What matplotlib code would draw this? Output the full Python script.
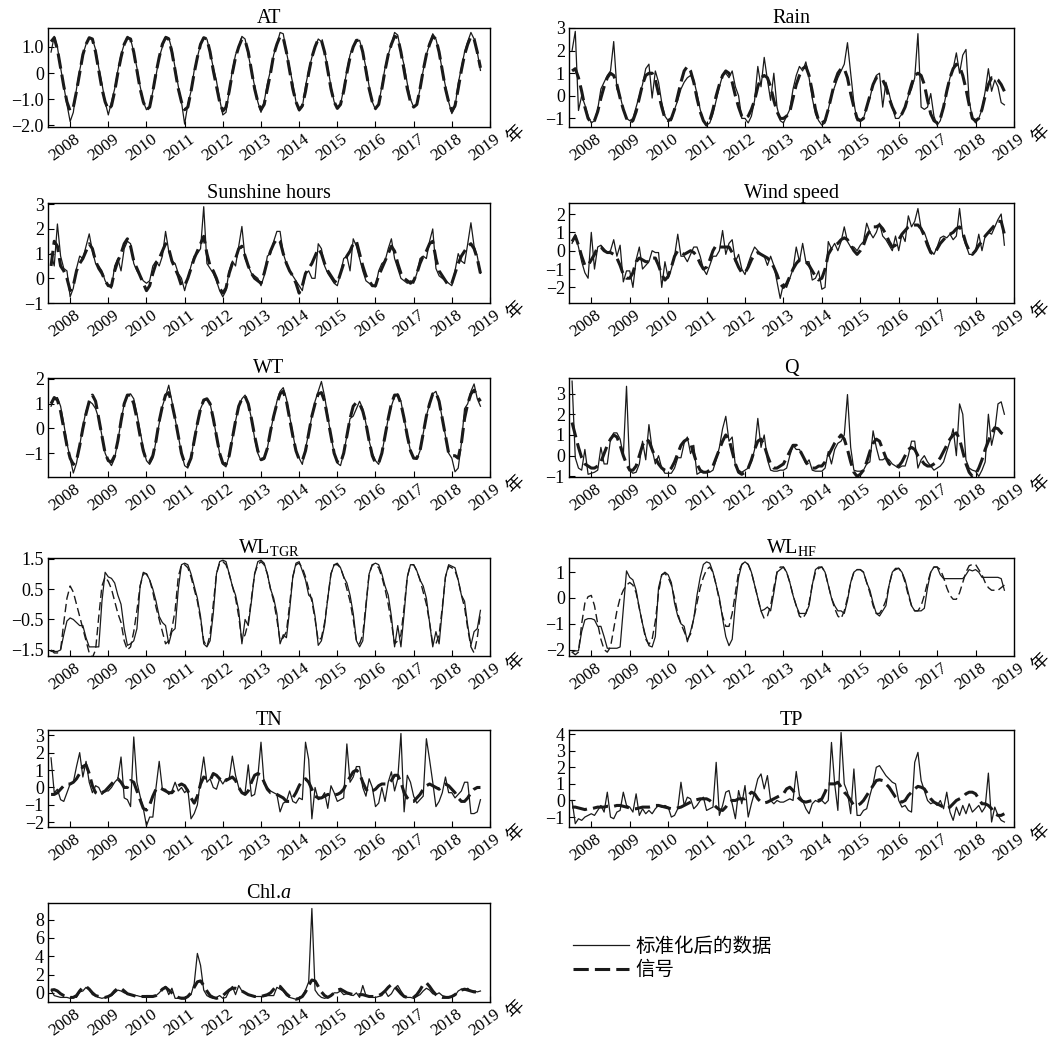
import numpy as np
import matplotlib
matplotlib.use('Agg')
import matplotlib.pyplot as plt
import matplotlib.transforms as mtransforms
from matplotlib.lines import Line2D

# monthly series, Jul 2007 .. Oct 2018 (rows: 2007 Jul-Dec, 2008 ... 2017, 2018 Jan-Oct)
start_year = 2007.5
years = list(range(2008, 2020))

at_data = [0.8, 1.4, 1.0, 0.2, -0.5, -1.2,
    -1.85, -1.5, -0.6, 0.1, 0.7, 1.1, 1.35, 1.3, 0.9, 0.2, -0.4, -1.1,
    -1.6, -1.1, -0.6, 0.1, 0.7, 1.1, 1.4, 1.3, 0.8, 0.2, -0.5, -1.1,
    -1.4, -1.3, -0.7, -0.1, 0.6, 1.0, 1.4, 1.35, 0.9, 0.2, -0.5, -1.1,
    -1.95, -1.2, -0.7, 0.1, 0.6, 1.1, 1.35, 1.3, 0.8, 0.2, -0.3, -1.0,
    -1.6, -1.5, -0.7, 0.1, 0.7, 1.0, 1.4, 1.3, 0.7, 0.1, -0.5, -1.1,
    -1.5, -1.1, -0.4, 0.1, 0.7, 1.1, 1.55, 1.5, 0.8, 0.2, -0.4, -1.1,
    -1.45, -1.3, -0.5, 0.1, 0.6, 1.0, 1.3, 1.2, 0.8, 0.2, -0.5, -1.1,
    -1.3, -1.2, -0.6, 0.1, 0.7, 1.0, 1.2, 1.25, 0.8, 0.2, -0.5, -1.1,
    -1.4, -1.2, -0.5, 0.2, 0.7, 1.1, 1.55, 1.45, 0.8, 0.3, -0.4, -1.0,
    -1.3, -1.2, -0.6, 0.1, 0.7, 1.1, 1.5, 1.3, 0.8, 0.1, -0.5, -1.1,
    -1.55, -1.3, -0.4, 0.2, 0.8, 1.2, 1.55, 1.3, 0.8, 0.1]
at_signal = [1.2, 1.35, 0.9, 0.2, -0.5, -1.1,
    -1.45, -1.3, -0.7, 0.0, 0.7, 1.1, 1.35, 1.3, 0.8, 0.1, -0.6, -1.1,
    -1.4, -1.25, -0.7, 0.0, 0.6, 1.1, 1.35, 1.3, 0.8, 0.1, -0.6, -1.1,
    -1.4, -1.3, -0.7, 0.0, 0.6, 1.1, 1.35, 1.3, 0.8, 0.1, -0.6, -1.1,
    -1.4, -1.3, -0.7, 0.0, 0.6, 1.1, 1.35, 1.3, 0.8, 0.1, -0.5, -1.1,
    -1.45, -1.3, -0.7, 0.0, 0.6, 1.0, 1.3, 1.25, 0.8, 0.1, -0.6, -1.1,
    -1.4, -1.2, -0.6, 0.0, 0.7, 1.1, 1.4, 1.35, 0.8, 0.1, -0.6, -1.1,
    -1.4, -1.25, -0.7, 0.0, 0.6, 1.0, 1.3, 1.25, 0.8, 0.1, -0.6, -1.1,
    -1.35, -1.2, -0.7, 0.0, 0.6, 1.0, 1.25, 1.25, 0.8, 0.1, -0.6, -1.1,
    -1.35, -1.2, -0.6, 0.1, 0.7, 1.1, 1.4, 1.35, 0.8, 0.1, -0.6, -1.1,
    -1.3, -1.2, -0.6, 0.1, 0.7, 1.1, 1.4, 1.3, 0.8, 0.1, -0.6, -1.1,
    -1.45, -1.25, -0.6, 0.1, 0.7, 1.1, 1.4, 1.3, 0.8, 0.2]

rain_data = [2.0, 2.85, -0.65, 0.0, -0.4, -0.9,
    -1.2, -1.1, -0.6, 0.3, 0.6, 0.9, 1.1, 2.4, 0.3, 0.0, -0.6, -1.0,
    -1.1, -1.0, -0.5, 0.0, 0.5, 1.2, 1.4, -0.1, 1.1, 0.6, -0.3, -0.9,
    -1.1, -1.1, -0.6, -0.2, 0.3, 0.6, 0.8, 0.9, 0.7, 0.1, -0.6, -1.1,
    -1.3, -1.2, -0.8, -0.2, 0.4, 0.9, 1.0, 0.8, 1.1, 0.4, 0.0, -1.0,
    -1.0, -1.2, -0.9, -0.2, 1.3, 0.4, 1.7, 0.7, -0.2, 1.0, -0.5, -1.1,
    -1.2, -0.9, -0.6, 0.3, 0.9, 1.3, 1.1, 1.5, 0.8, -0.1, -0.8, -1.1,
    -1.3, -1.2, -0.6, 0.0, 0.4, 0.8, 1.1, 1.4, 2.35, 1.0, -0.3, -1.1,
    -1.1, -1.0, -0.5, -0.1, 0.5, 0.9, 1.0, -0.5, 0.6, 0.1, -0.5, -1.0,
    -1.0, -0.8, -0.5, 0.0, 0.3, 0.8, 2.75, -0.5, -0.6, -0.5, 0.1, -0.9,
    -1.3, -1.1, -0.5, 0.2, 0.8, 1.2, 1.9, 1.0, 1.8, 2.05, -0.2, -1.0,
    -1.2, -1.0, -0.6, 0.2, 1.2, 0.2, 0.7, 0.4, -0.3, -0.4]
rain_signal = [1.1, 1.2, 0.8, 0.2, -0.5, -1.0,
    -1.2, -1.1, -0.7, -0.1, 0.4, 0.8, 1.0, 0.9, 0.5, -0.1, -0.6, -1.0,
    -1.2, -1.1, -0.7, -0.1, 0.5, 0.9, 1.0, 1.0, 0.7, 0.1, -0.5, -1.0,
    -1.1, -1.0, -0.6, 0.0, 0.6, 1.1, 1.3, 1.1, 0.6, -0.1, -0.7, -1.1,
    -1.3, -1.1, -0.6, 0.0, 0.5, 0.9, 1.1, 1.0, 0.6, 0.0, -0.5, -0.9,
    -1.0, -0.9, -0.6, -0.2, 0.4, 0.8, 0.9, 0.8, 0.4, -0.2, -0.7, -1.0,
    -1.0, -0.9, -0.7, -0.1, 0.5, 0.9, 1.2, 1.3, 0.9, 0.2, -0.6, -1.1,
    -1.2, -1.1, -0.6, 0.0, 0.6, 1.0, 1.2, 1.2, 0.8, 0.1, -0.5, -1.0,
    -1.1, -1.0, -0.5, 0.0, 0.5, 0.8, 0.8, 0.7, 0.4, -0.1, -0.5, -0.8,
    -0.9, -0.8, -0.5, 0.0, 0.5, 0.9, 1.0, 0.9, 0.5, -0.2, -0.8, -1.1,
    -1.2, -1.0, -0.5, 0.2, 0.8, 1.2, 1.4, 1.3, 0.9, 0.3, -0.4, -1.0,
    -1.1, -1.0, -0.6, 0.0, 0.5, 0.8, 0.8, 0.7, 0.5, 0.2]

sun_data = [1.0, 0.5, 2.2, 0.9, 0.4, 0.3,
    -0.75, -0.4, 0.4, 0.9, 0.8, 1.3, 1.8, 1.1, 0.6, 0.5, 0.3, -0.1,
    -0.3, -0.4, 0.5, 0.8, 0.3, 1.2, 1.5, 1.4, 0.6, 0.3, 0.1, -0.1,
    -0.2, -0.1, 0.5, 0.7, 0.5, 0.9, 1.9, 1.1, 0.7, 0.6, 0.2, 0.0,
    -0.5, 0.0, 0.5, 0.9, 1.0, 1.2, 2.9, 0.6, 0.4, 0.2, -0.1, -0.5,
    -0.75, -0.5, 0.3, 0.7, 0.5, 1.3, 2.1, 0.8, 0.5, 0.2, 0.1, 0.0,
    -0.3, 0.1, 0.9, 1.0, 1.5, 1.9, 1.9, 1.0, 0.6, 0.3, 0.1, -0.1,
    -0.3, -0.5, 0.2, 0.3, 0.0, 0.0, 1.4, 1.2, 0.5, 0.2, 0.0, -0.2,
    -0.3, 0.2, 0.8, 0.9, 0.3, 1.6, 1.3, 0.8, 0.3, -0.1, -0.2, -0.3,
    -0.35, 0.3, 0.6, 0.7, 1.2, 1.6, 0.8, 0.4, 0.0, -0.1, -0.2, -0.1,
    -0.2, 0.2, 0.8, 0.9, 0.8, 1.5, 2.0, 0.4, 0.1, 0.0, -0.1, -0.2,
    -0.3, 0.3, 1.0, 0.7, 0.6, 1.4, 2.25, 1.3, 0.9, 0.2]
sun_signal = [0.5, 1.5, 1.3, 0.5, 0.3, 0.0,
    -0.5, -0.3, 0.3, 0.6, 0.8, 1.1, 1.4, 1.2, 0.7, 0.4, 0.2, -0.1,
    -0.3, -0.3, 0.3, 0.7, 1.0, 1.4, 1.6, 1.3, 0.7, 0.4, 0.1, -0.2,
    -0.5, -0.3, 0.2, 0.6, 0.8, 1.1, 1.4, 1.2, 0.7, 0.4, 0.1, -0.3,
    -0.3, 0.0, 0.4, 0.8, 1.1, 1.4, 1.7, 1.0, 0.5, 0.3, 0.0, -0.4,
    -0.6, -0.4, 0.2, 0.6, 0.8, 1.2, 1.3, 0.9, 0.5, 0.2, 0.0, -0.1,
    -0.2, 0.2, 0.7, 1.1, 1.4, 1.6, 1.5, 1.0, 0.6, 0.3, 0.1, -0.2,
    -0.6, -0.3, 0.2, 0.4, 0.6, 0.9, 1.2, 1.0, 0.6, 0.3, 0.1, -0.1,
    -0.2, 0.2, 0.6, 0.9, 1.1, 1.4, 1.5, 1.0, 0.5, 0.1, -0.1, -0.3,
    -0.3, 0.1, 0.4, 0.7, 1.0, 1.3, 1.1, 0.6, 0.2, 0.0, -0.1, -0.2,
    -0.1, 0.2, 0.6, 0.9, 1.1, 1.4, 1.5, 0.8, 0.3, 0.1, -0.1, -0.3,
    -0.2, 0.2, 0.6, 0.9, 1.1, 1.3, 1.4, 1.2, 0.8, 0.2]

wind_data = [0.4, 0.9, 0.2, -0.6, -1.2, -1.5,
    1.0, -1.0, 0.2, 0.3, 0.1, -0.1, 0.0, 0.6, -0.3, 0.3, -1.7, -1.1,
    -1.1, -2.0, -0.5, 0.2, -1.0, -0.8, -0.6, 0.0, -0.1, -0.1, -2.0, -0.6,
    -1.5, -1.0, -0.3, 0.9, -0.3, -0.3, -0.6, -0.2, 0.2, 0.2, -0.3, -1.0,
    -1.3, -0.8, -0.3, -0.3, 0.0, 1.1, -0.2, 0.4, 0.6, -0.6, -0.2, -1.0,
    -1.3, -0.7, -0.2, 0.2, 0.0, -0.2, -0.3, -0.8, -0.3, -0.8, -1.7, -2.6,
    -1.8, -2.0, -1.5, -1.0, 0.2, -0.6, 0.4, -0.6, -0.6, -1.6, -1.5, -1.1,
    -2.1, -2.0, 0.5, 0.1, 0.4, 0.0, 0.5, 1.3, 0.5, 0.2, 0.2, 0.0,
    0.3, 0.5, 1.5, 1.0, 0.7, 1.0, 1.5, 0.8, 0.6, 0.3, 0.0, 0.8,
    0.0, 0.9, 0.5, 1.9, 1.3, 1.6, 2.3, 1.2, 1.0, 0.5, 0.0, -0.2,
    0.2, 0.7, 0.8, 0.7, 0.9, 0.6, 0.8, 2.3, 0.8, 0.3, -0.2, -0.2,
    0.0, 0.9, 0.0, 0.8, 1.0, 0.9, 1.3, 1.7, 2.0, 0.3]
wind_signal = [0.5, 0.8, 0.3, -0.3, -0.8, -0.8,
    -0.5, -0.2, 0.2, 0.2, 0.0, -0.1, -0.1, -0.2, -0.4, -0.8, -1.3, -1.5,
    -1.5, -1.2, -0.6, -0.4, -0.5, -0.6, -0.6, -0.4, -0.4, -0.8, -1.3, -1.6,
    -1.4, -0.9, -0.3, 0.0, -0.1, -0.2, -0.1, 0.0, -0.1, -0.3, -0.7, -1.0,
    -0.9, -0.5, 0.0, 0.3, 0.2, 0.2, 0.2, 0.2, -0.1, -0.5, -0.9, -1.2,
    -1.2, -0.9, -0.5, -0.2, -0.1, -0.2, -0.3, -0.4, -0.6, -0.9, -1.3, -1.8,
    -2.0, -1.8, -1.4, -1.0, -0.7, -0.5, -0.5, -0.6, -0.8, -1.1, -1.4, -1.6,
    -1.5, -1.0, -0.2, 0.1, 0.3, 0.4, 0.6, 0.7, 0.6, 0.3, 0.0, -0.2,
    0.0, 0.3, 0.8, 1.1, 1.3, 1.3, 1.4, 1.2, 0.9, 0.5, 0.2, 0.3,
    0.6, 0.9, 1.1, 1.3, 1.4, 1.4, 1.4, 1.2, 0.8, 0.3, -0.1, -0.2,
    0.1, 0.4, 0.6, 0.8, 0.9, 1.0, 1.2, 1.3, 1.0, 0.4, 0.0, -0.2,
    0.0, 0.3, 0.5, 0.8, 1.0, 1.2, 1.4, 1.6, 1.6, 0.9]

wt_data = [0.9, 1.2, 1.25, 0.9, 0.2, -0.6,
    -1.2, -1.8, -1.4, -0.7, 0.1, 0.7, 1.1, 1.0, 0.8, 0.4, -0.3, -1.0,
    -1.3, -1.5, -1.2, -0.5, 0.3, 1.0, 1.3, 1.4, 1.2, 0.6, -0.1, -0.8,
    -1.3, -1.45, -1.2, -0.5, 0.2, 0.9, 1.3, 1.75, 1.1, 0.4, -0.3, -1.0,
    -1.5, -1.6, -1.2, -0.4, 0.2, 0.8, 1.1, 1.2, 1.0, 0.4, -0.3, -1.0,
    -1.45, -1.55, -1.1, -0.4, 0.3, 0.9, 1.2, 1.35, 1.0, 0.4, -0.4, -1.0,
    -1.3, -1.25, -0.8, -0.1, 0.5, 1.1, 1.5, 1.65, 1.2, 0.5, -0.2, -0.9,
    -1.2, -1.45, -0.8, -0.2, 0.5, 1.1, 1.5, 1.9, 1.3, 0.5, -0.3, -1.0,
    -1.4, -1.5, -1.0, -0.3, 0.4, 0.5, 0.8, 1.1, 0.8, 0.2, -0.5, -1.0,
    -1.3, -1.45, -1.0, -0.3, 0.4, 0.9, 1.3, 1.4, 1.1, 0.4, -0.3, -0.9,
    -1.2, -1.25, -0.9, -0.2, 0.5, 1.0, 1.4, 1.5, 1.1, 0.4, -0.3, -1.0,
    -1.2, -1.75, -1.6, -0.6, 0.8, 1.0, 1.5, 1.8, 1.2, 0.9]
wt_signal = [1.0, 1.25, 1.15, 0.7, 0.0, -0.7,
    -1.2, -1.45, -1.3, -0.7, 0.0, 0.6, 1.1, 1.35, 1.1, 0.4, -0.3, -1.0,
    -1.3, -1.35, -1.1, -0.5, 0.3, 1.0, 1.35, 1.35, 1.0, 0.4, -0.3, -0.9,
    -1.3, -1.35, -1.1, -0.5, 0.3, 0.9, 1.35, 1.45, 1.0, 0.4, -0.3, -1.0,
    -1.4, -1.5, -1.2, -0.5, 0.2, 0.8, 1.15, 1.2, 1.0, 0.4, -0.3, -1.0,
    -1.4, -1.45, -1.1, -0.4, 0.3, 0.9, 1.2, 1.3, 1.0, 0.4, -0.3, -0.9,
    -1.25, -1.2, -0.8, -0.1, 0.5, 1.0, 1.4, 1.5, 1.1, 0.4, -0.3, -0.9,
    -1.25, -1.3, -0.9, -0.2, 0.5, 1.0, 1.4, 1.45, 1.1, 0.4, -0.3, -1.0,
    -1.35, -1.4, -1.0, -0.3, 0.4, 0.9, 1.05, 1.0, 0.7, 0.2, -0.5, -1.1,
    -1.4, -1.4, -1.0, -0.3, 0.4, 1.0, 1.35, 1.35, 1.0, 0.4, -0.3, -0.9,
    -1.2, -1.2, -0.9, -0.2, 0.5, 1.0, 1.4, 1.45, 1.1, 0.4, -0.3, -1.0,
    -1.1, -1.1, -1.2, -0.6, 0.4, 1.0, 1.4, 1.55, 1.3, 1.1]

q_data = [3.6, -0.1, -0.6, -0.7, 0.3, -0.9,
    -0.85, -0.8, -0.7, 0.4, -0.4, -0.4, 0.8, 1.1, 1.1, 0.8, 0.0, 3.35,
    -0.7, -0.85, -0.8, -0.4, 0.7, -0.2, 1.5, 0.3, -0.4, 0.0, -0.6, -0.85,
    -0.85, -0.85, -0.6, -0.1, -0.1, 0.6, 0.9, 0.1, 0.5, -0.9, -0.8, -0.8,
    -0.8, -0.8, -0.7, -0.2, 0.4, 1.3, 1.9, 0.7, 0.9, -0.5, -0.7, -0.8,
    -0.7, -0.6, -0.3, 0.3, 1.8, 0.4, 1.0, -0.2, -0.7, -0.75, -0.75, -0.7,
    -0.7, -0.6, 0.0, 0.5, 0.3, 0.3, 0.0, -0.4, -0.2, -0.7, -0.75, -0.75,
    -0.75, -0.6, 0.2, -0.4, 0.3, 0.6, 0.7, 1.0, 2.95, 0.4, -0.7, -0.75,
    -0.75, -0.7, -0.4, -0.3, 1.2, 0.4, -0.2, -0.2, -0.1, -0.2, -0.4, -0.5,
    -0.6, -0.5, -0.5, 0.0, 0.7, 0.7, -0.6, -0.2, 0.0, -0.3, -0.5, -0.7,
    -0.6, -0.5, -0.3, 0.2, 0.7, 1.3, 0.0, 2.5, 2.0, -0.2, -0.6, -0.7,
    -0.75, -1.0, -0.7, -0.3, 2.0, 0.5, 1.2, 2.5, 2.6, 2.0]
q_signal = [1.6, 1.0, 0.4, -0.1, -0.4, -0.5,
    -0.6, -0.6, -0.5, -0.3, 0.1, 0.5, 0.8, 1.0, 0.9, 0.5, 0.0, -0.4,
    -0.7, -0.7, -0.5, 0.0, 0.5, 0.8, 0.7, 0.3, -0.1, -0.4, -0.6, -0.7,
    -0.75, -0.6, -0.3, 0.1, 0.5, 0.7, 0.8, 0.6, 0.1, -0.4, -0.7, -0.8,
    -0.8, -0.7, -0.5, -0.1, 0.3, 0.7, 1.0, 0.8, 0.2, -0.4, -0.8, -0.9,
    -0.8, -0.6, -0.2, 0.3, 0.7, 0.8, 0.5, 0.0, -0.4, -0.6, -0.6, -0.5,
    -0.4, -0.1, 0.2, 0.5, 0.5, 0.3, 0.0, -0.3, -0.5, -0.6, -0.6, -0.5,
    -0.5, -0.3, 0.0, 0.3, 0.6, 0.8, 1.0, 0.8, 0.3, -0.3, -0.8, -1.0,
    -0.9, -0.7, -0.3, 0.2, 0.6, 0.8, 0.7, 0.3, -0.1, -0.4, -0.5, -0.5,
    -0.5, -0.3, 0.0, 0.3, 0.4, 0.3, 0.0, -0.2, -0.4, -0.5, -0.5, -0.4,
    -0.3, -0.1, 0.2, 0.5, 0.8, 1.0, 1.1, 0.8, 0.2, -0.4, -0.8, -1.0,
    -0.9, -0.6, -0.2, 0.3, 0.7, 1.1, 1.35, 1.3, 1.1, 1.0]

wltgr_data = [-1.55, -1.55, -1.55, -1.5, -1.0, -0.55,
    -0.45, -0.5, -0.6, -0.7, -0.7, -1.1, -1.4, -1.4, -1.4, -1.4, 0.1, 1.05,
    0.9, 0.85, 0.7, 0.3, 0.0, -0.8, -1.35, -1.3, -1.2, -0.8, 0.6, 1.05,
    1.0, 0.8, 0.5, 0.1, -0.4, -0.6, -0.7, -1.3, -0.9, -0.8, 0.5, 1.3,
    1.35, 1.3, 1.0, 0.6, 0.2, -0.4, -1.3, -1.4, -1.2, -0.3, 1.0, 1.4,
    1.45, 1.4, 1.0, 0.6, 0.3, -0.2, -1.3, -0.5, -0.7, 0.1, 1.0, 1.4,
    1.45, 1.35, 1.0, 0.5, 0.2, -0.3, -1.3, -1.0, -1.1, -0.2, 0.9, 1.35,
    1.4, 1.1, 0.8, 0.3, 0.2, -0.4, -1.35, -1.2, -0.7, 0.2, 1.0, 1.3,
    1.35, 1.2, 0.9, 0.7, 0.3, -0.3, -1.2, -1.4, -1.2, -0.1, 1.0, 1.3,
    1.35, 1.3, 1.0, 0.6, 0.3, -0.4, -1.4, -0.7, -1.4, -0.3, 0.9, 1.3,
    1.3, 1.1, 0.8, 0.6, 0.2, -0.6, -1.4, -0.9, -1.3, -0.2, 0.9, 1.3,
    1.25, 1.2, 0.8, 0.3, 0.1, -0.7, -1.35, -0.9, -0.8, -0.2]
wltgr_signal = [-1.5, -1.6, -1.6, -1.5, -0.6, 0.2,
    0.6, 0.4, 0.0, -0.4, -0.8, -1.2, -1.6, -1.75, -1.5, -0.4, 0.6, 0.9,
    0.75, 0.5, 0.1, -0.3, -0.6, -1.2, -1.5, -1.4, -0.9, -0.2, 0.6, 1.0,
    1.0, 0.8, 0.4, -0.1, -0.5, -0.9, -1.3, -1.2, -0.8, -0.2, 0.9, 1.3,
    1.3, 1.2, 0.9, 0.5, 0.1, -0.5, -1.2, -1.4, -1.0, 0.0, 1.0, 1.35,
    1.4, 1.3, 1.0, 0.6, 0.2, -0.4, -1.2, -1.0, -0.6, 0.2, 1.0, 1.3,
    1.4, 1.3, 1.0, 0.5, 0.1, -0.5, -1.2, -1.1, -0.9, 0.0, 0.9, 1.3,
    1.35, 1.2, 0.9, 0.5, 0.1, -0.5, -1.2, -1.1, -0.6, 0.2, 1.0, 1.3,
    1.3, 1.2, 0.9, 0.5, 0.1, -0.5, -1.2, -1.3, -1.0, 0.0, 1.0, 1.3,
    1.3, 1.2, 0.9, 0.5, 0.0, -0.6, -1.3, -1.2, -1.0, -0.1, 0.9, 1.3,
    1.3, 1.1, 0.8, 0.4, 0.0, -0.6, -1.3, -1.3, -1.0, -0.1, 0.9, 1.25,
    1.2, 1.1, 0.8, 0.3, -0.1, -0.8, -1.4, -1.6, -1.1, -0.3]

wlhf_data = [-2.1, -2.05, -2.05, -1.3, -0.85, -0.8,
    -0.8, -0.85, -1.1, -1.1, -1.5, -1.95, -1.95, -1.95, -1.95, -1.9, -0.4, 1.05,
    0.8, 0.7, 0.3, -0.4, -1.0, -1.5, -1.85, -1.9, -1.5, 0.4, 0.9, 1.0,
    0.9, 0.6, -0.2, -0.7, -1.0, -1.1, -1.7, -1.3, -0.8, 0.1, 0.8, 1.3,
    1.4, 1.35, 1.0, 0.5, 0.0, -0.8, -1.5, -1.85, -1.6, -0.2, 0.8, 1.3,
    1.4, 1.3, 1.0, 0.5, 0.0, -0.5, -0.45, -0.35, -0.5, 0.2, 1.0, 1.1,
    1.2, 1.0, 0.6, 0.1, -0.3, -0.6, -0.6, -0.6, -0.3, 0.5, 1.1, 1.2,
    1.2, 1.0, 0.5, 0.0, -0.3, -0.5, -0.5, -0.6, -0.1, 0.6, 1.0, 1.1,
    1.1, 1.0, 0.6, 0.3, -0.2, -0.6, -0.7, -0.5, -0.3, 0.5, 1.0, 1.15,
    1.15, 1.0, 0.7, 0.2, -0.3, -0.5, -0.5, -0.5, -0.4, 0.4, 1.0, 1.2,
    1.2, 0.9, 0.75, 0.75, 0.75, 0.75, 0.75, 0.75, 0.75, 0.9, 1.1, 1.05,
    1.1, 1.0, 0.8, 0.8, 0.8, 0.8, 0.8, 0.8, 0.75, 0.3]
wlhf_signal = [-2.1, -2.2, -2.1, -1.0, -0.2, 0.05,
    0.1, -0.3, -1.0, -1.6, -2.0, -2.1, -1.9, -1.2, -0.5, 0.0, 0.3, 0.5,
    0.6, 0.5, 0.2, -0.4, -1.0, -1.6, -1.8, -1.6, -0.9, 0.2, 0.9, 0.95,
    0.8, 0.5, 0.0, -0.6, -1.0, -1.3, -1.6, -1.4, -0.8, -0.2, 0.4, 0.8,
    1.1, 1.2, 1.0, 0.5, -0.1, -0.7, -1.1, -1.1, -0.6, 0.2, 1.0, 1.3,
    1.4, 1.3, 1.0, 0.5, 0.0, -0.5, -0.8, -0.7, -0.3, 0.4, 1.0, 1.2,
    1.2, 1.0, 0.6, 0.1, -0.3, -0.7, -0.8, -0.6, -0.2, 0.5, 1.0, 1.15,
    1.2, 1.0, 0.5, 0.0, -0.4, -0.7, -0.8, -0.5, 0.0, 0.6, 1.0, 1.1,
    1.1, 1.0, 0.6, 0.2, -0.3, -0.6, -0.6, -0.4, -0.1, 0.5, 1.0, 1.1,
    1.15, 1.0, 0.6, 0.1, -0.3, -0.5, -0.5, -0.3, 0.1, 0.6, 1.0, 1.2,
    1.2, 1.1, 0.8, 0.4, 0.1, -0.05, -0.05, 0.2, 0.6, 1.0, 1.25, 1.3,
    1.3, 1.1, 0.9, 0.6, 0.4, 0.3, 0.3, 0.3, 0.4, 0.5]

tn_data = [1.7, -0.3, -0.1, -0.7, -0.8, -0.3,
    0.2, 0.3, 1.2, 2.0, 0.6, 1.5, 0.3, -0.3, 0.1, 0.0, -0.4, -0.2,
    -0.2, 0.0, 0.3, 0.5, 1.75, -0.6, -0.7, -1.1, 2.9, 0.3, -0.5, -1.2,
    -2.2, -1.7, -1.7, 0.0, 1.5, -0.1, -0.1, -0.4, -0.2, 0.3, -0.2, 0.0,
    -0.3, -0.1, -1.8, -1.5, -1.0, 0.5, 1.75, 0.3, 0.5, 0.0, -0.1, 0.5,
    0.2, 0.5, 0.5, 1.8, 0.7, 0.0, -0.3, -0.3, 1.3, -0.5, -0.4, 0.6,
    2.6, 0.2, 0.0, -0.2, -0.3, -0.4, -1.4, -0.9, -0.8, -0.2, -0.8, -0.9,
    -0.6, -0.7, 2.6, 1.6, -1.8, 0.0, -0.7, -0.6, -0.3, -1.2, 0.1, -0.3,
    -0.8, -0.7, -0.6, 2.5, 0.3, 0.6, 1.2, 1.2, 0.0, -0.5, 0.5, 0.0,
    -1.1, -0.9, 0.0, -0.8, 0.3, 0.9, -0.2, 0.5, 3.1, -1.4, 0.7, 0.3,
    -0.5, -0.9, -0.7, -0.5, 2.8, 1.6, 0.3, -1.1, -0.8, -0.3, 0.6, -0.3,
    -0.3, -0.6, -0.4, -0.2, 0.3, 0.3, -1.5, -1.5, -1.4, -0.7]
tn_signal = [-0.4, -0.4, -0.3, -0.1, 0.1, 0.2,
    0.2, 0.3, 0.5, 0.8, 1.2, 1.3, 0.8, 0.1, -0.3, -0.4, -0.3, -0.2,
    0.0, 0.2, 0.4, 0.5, 0.3, 0.0, 0.0, 0.4, 0.3, -0.2, -0.7, -1.2,
    -1.3, -1.0, -0.5, -0.1, 0.0, -0.1, -0.2, -0.3, -0.3, -0.1, 0.1, 0.2,
    0.1, -0.2, -0.6, -0.9, -0.5, 0.2, 0.6, 0.5, 0.4, 0.8, 0.7, 0.5,
    0.3, 0.4, 0.5, 0.6, 0.4, 0.0, -0.3, -0.4, -0.2, 0.3, 0.7, 0.8,
    0.7, 0.3, -0.1, -0.3, -0.3, -0.4, -0.5, -0.6, -0.8, -0.8, -0.6, -0.3,
    0.1, 0.4, 0.5, 0.3, -0.1, -0.5, -0.6, -0.6, -0.5, -0.4, -0.4, -0.4,
    -0.4, -0.3, -0.1, 0.3, 0.6, 0.9, 1.0, 0.8, 0.3, -0.1, -0.3, -0.2,
    -0.1, 0.1, 0.2, 0.2, 0.2, 0.4, 0.7, 0.7, 0.3, -0.3, -0.6, -0.8,
    -0.8, -0.6, -0.4, -0.1, 0.1, 0.2, 0.1, 0.0, -0.1, 0.1, 0.2, 0.1,
    -0.1, -0.3, -0.6, -0.8, -0.8, -0.6, -0.3, -0.1, 0.0, 0.0]

tp_data = [0.0, -1.4, -1.1, -1.2, -1.0, -0.9,
    -0.8, -0.9, -0.6, -0.3, -0.7, 0.5, -1.0, -1.1, -0.7, -0.6, 0.5, -0.3,
    -0.4, -0.7, 0.4, -0.9, -0.5, -0.8, -0.6, -0.8, -0.5, -0.3, -0.4, -0.3,
    -0.4, -1.0, -0.9, -0.5, 1.1, -0.3, 0.2, 0.1, -0.5, -0.3, 0.0, 0.2,
    -0.6, -0.5, -0.4, 2.3, -0.9, -0.3, 0.5, 0.6, -0.2, -1.1, 0.6, -0.2,
    0.9, -1.0, -0.2, 0.5, 1.3, 1.6, 0.7, 1.5, 0.0, -0.2, 0.0, -0.1,
    -0.1, 0.0, 0.1, 0.0, 1.75, 0.3, 0.0, -0.5, -0.8, -0.2, 0.0, -0.1,
    0.0, -0.2, 0.0, 3.5, 1.0, -0.6, 4.1, 1.0, 0.5, -0.8, 1.9, -0.9,
    -0.9, -0.6, -0.5, 0.3, 1.0, 2.0, 2.1, 1.8, 1.5, 1.3, 1.1, 1.0,
    0.0, -0.4, -0.3, -0.6, -0.7, 2.3, 2.9, 1.2, 0.6, 0.0, -0.2, -0.1,
    -0.3, 0.0, -0.5, 0.5, -0.7, -1.2, -0.4, -0.9, -0.3, -0.8, -0.2, -0.7,
    -0.5, -0.3, -0.7, -0.4, 1.65, -1.3, -0.4, -0.9, -1.2, -1.3]
tp_signal = [-0.4, -0.4, -0.45, -0.5, -0.55, -0.5,
    -0.5, -0.45, -0.4, -0.4, -0.4, -0.35, -0.35, -0.35, -0.3, -0.3, -0.35, -0.4,
    -0.45, -0.5, -0.5, -0.45, -0.4, -0.4, -0.4, -0.35, -0.3, -0.3, -0.35, -0.4,
    -0.45, -0.5, -0.5, -0.45, -0.4, -0.3, -0.2, -0.1, 0.0, 0.05, 0.1, 0.1,
    0.1, 0.0, -0.2, -0.4, -0.55, -0.6, -0.4, -0.1, 0.0, 0.0, 0.1, 0.1,
    0.1, 0.3, 0.5, 0.4, 0.1, -0.1, -0.15, -0.1, 0.0, 0.1, 0.2, 0.3,
    0.4, 0.7, 0.8, 0.6, 0.3, 0.1, -0.05, -0.1, -0.05, 0.0, 0.0, 0.0,
    0.1, 0.5, 1.0, 1.0, 1.0, 1.1, 0.8, 0.5, 0.3, 0.0, -0.3, -0.3,
    -0.2, 0.0, 0.3, 0.6, 0.9, 1.2, 1.25, 1.2, 1.0, 0.8, 0.5, 0.2,
    0.0, -0.1, 0.0, 0.3, 0.5, 0.7, 0.85, 0.8, 0.7, 0.4, 0.1, -0.1,
    -0.2, -0.3, -0.4, -0.5, -0.4, -0.2, 0.0, 0.1, 0.2, 0.4, 0.5, 0.5,
    0.4, 0.1, -0.2, -0.2, -0.3, -0.5, -0.8, -0.9, -0.9, -0.8]

chla_data = [0.3, -0.3, -0.4, -0.5, -0.5, -0.5,
    -0.6, -0.4, -0.5, 0.1, 0.2, 0.6, 0.4, -0.2, -0.3, -0.5, -0.6, -0.5,
    -0.4, -0.3, 0.0, 0.3, 0.2, 0.0, -0.1, -0.2, -0.3, -0.3, -0.4, -0.4,
    -0.3, -0.3, -0.3, -0.3, 0.0, 0.4, 0.7, -0.2, 0.5, -0.6, -0.6, -0.5,
    -0.5, -0.4, -0.2, 1.0, 4.3, 3.0, 0.3, -0.3, -0.5, -0.6, -0.5, -0.3,
    -0.6, -0.5, 0.2, 0.7, -0.2, 0.8, 0.2, 0.0, -0.2, -0.3, -0.4, -0.4,
    -0.4, -0.4, -0.3, -0.3, -0.3, 0.6, 0.4, 0.2, -0.3, -0.5, -0.6, -0.7,
    -0.6, -0.4, 0.3, 1.2, 9.2, 0.3, -0.2, -0.5, -0.6, -0.5, -0.3, 0.0,
    0.0, 0.2, -0.2, -0.1, -0.2, -0.3, 0.0, -0.5, 0.8, -0.3, -0.4, -0.5,
    -0.5, -0.4, -0.3, 0.2, -0.4, -0.1, 0.5, 0.8, 0.2, -0.3, -0.5, -0.5,
    -0.6, -0.4, -0.2, 0.2, 0.5, 0.3, -0.1, -0.2, 0.0, -0.3, -0.4, -0.5,
    -0.4, -0.3, 0.2, 0.4, 0.3, 0.5, 0.2, 0.2, 0.1, 0.2]
chla_signal = [0.3, 0.35, 0.2, -0.1, -0.3, -0.4,
    -0.5, -0.5, -0.3, 0.2, 0.6, 0.7, 0.4, 0.0, -0.3, -0.4, -0.5, -0.5,
    -0.4, -0.2, 0.2, 0.5, 0.5, 0.2, -0.1, -0.2, -0.3, -0.4, -0.4, -0.4,
    -0.4, -0.4, -0.4, -0.3, 0.0, 0.4, 0.6, 0.3, 0.0, -0.3, -0.5, -0.6,
    -0.6, -0.4, 0.0, 0.6, 1.2, 1.3, 0.8, 0.2, -0.3, -0.5, -0.6, -0.5,
    -0.3, 0.0, 0.3, 0.5, 0.5, 0.4, 0.2, 0.0, -0.2, -0.3, -0.4, -0.4,
    -0.4, -0.3, -0.2, 0.0, 0.4, 0.8, 0.7, 0.3, -0.1, -0.4, -0.6, -0.7,
    -0.6, -0.4, 0.1, 0.8, 1.4, 1.3, 0.7, 0.1, -0.3, -0.5, -0.3, 0.0,
    0.3, 0.4, 0.2, 0.0, -0.1, -0.2, -0.2, -0.2, -0.2, -0.3, -0.4, -0.4,
    -0.4, -0.3, -0.1, 0.2, 0.6, 0.9, 0.7, 0.3, -0.1, -0.4, -0.5, -0.6,
    -0.5, -0.2, 0.3, 0.9, 1.1, 0.7, 0.2, -0.2, -0.4, -0.5, -0.5, -0.5,
    -0.4, -0.2, 0.1, 0.3, 0.4, 0.3, 0.2, 0.1, 0.1, 0.1]

# title, data, signal, ylim, yticks, tick labels, column, row, thin dashed signal
panels = [
    ('AT', at_data, at_signal, (-2.06, 1.72), [-2, -1, 0, 1],
     ['−2.0', '−1.0', '0', '1.0'], 0, 0, False),
    ('Rain', rain_data, rain_signal, (-1.38, 3.0), [-1, 0, 1, 2, 3],
     ['−1', '0', '1', '2', '3'], 1, 0, False),
    ('Sunshine hours', sun_data, sun_signal, (-1.0, 3.05), [-1, 0, 1, 2, 3],
     ['−1', '0', '1', '2', '3'], 0, 1, False),
    ('Wind speed', wind_data, wind_signal, (-2.85, 2.6), [-2, -1, 0, 1, 2],
     ['−2', '−1', '0', '1', '2'], 1, 1, False),
    ('WT', wt_data, wt_signal, (-1.96, 2.04), [-1, 0, 1, 2],
     ['−1', '0', '1', '2'], 0, 2, False),
    ('Q', q_data, q_signal, (-1.03, 3.75), [-1, 0, 1, 2, 3],
     ['−1', '0', '1', '2', '3'], 1, 2, False),
    (r'WL$_\mathrm{TGR}$', wltgr_data, wltgr_signal, (-1.7, 1.52),
     [-1.5, -0.5, 0.5, 1.5], ['−1.5', '−0.5', '0.5', '1.5'], 0, 3, True),
    (r'WL$_\mathrm{HF}$', wlhf_data, wlhf_signal, (-2.25, 1.55), [-2, -1, 0, 1],
     ['−2', '−1', '0', '1'], 1, 3, True),
    ('TN', tn_data, tn_signal, (-2.27, 3.3), [-2, -1, 0, 1, 2, 3],
     ['−2', '−1', '0', '1', '2', '3'], 0, 4, False),
    ('TP', tp_data, tp_signal, (-1.6, 4.25), [-1, 0, 1, 2, 3, 4],
     ['−1', '0', '1', '2', '3', '4'], 1, 4, False),
    (r'Chl.$a$', chla_data, chla_signal, (-1.0, 9.8), [0, 2, 4, 6, 8],
     ['0', '2', '4', '6', '8'], 0, 5, False),
]

plt.rcParams['font.family'] = ['Liberation Serif', 'Noto Sans CJK SC']
plt.rcParams['mathtext.fontset'] = 'custom'
plt.rcParams['mathtext.rm'] = 'Liberation Serif'
plt.rcParams['mathtext.it'] = 'Liberation Serif:italic'

W, H = 1053, 1041
fig = plt.figure(figsize=(W / 100, H / 100), dpi=100)

col_x = [(48, 490), (569, 1014)]
row_y = [(28, 127), (203, 303), (378, 477), (558, 656), (730, 827), (903, 1002)]
ink = '#1a1a1a'

for title, data, signal, ylim, yticks, ylabels, col, row, thin in panels:
    assert len(data) == 136 and len(signal) == 136, title
    x0, x1 = col_x[col]
    y0, y1 = row_y[row]
    ax = fig.add_axes([x0 / W, 1 - y1 / H, (x1 - x0) / W, (y1 - y0) / H])
    t = start_year + np.arange(len(data)) / 12.0
    ax.plot(t, data, color=ink, lw=0.9)
    if thin:
        ax.plot(t, signal, color=ink, lw=1.0, ls=(0, (6, 3)))
    else:
        ax.plot(t, signal, color=ink, lw=2.2, ls=(0, (5, 2)))
    ax.set_xlim(2007.42, 2019.0)
    ax.set_ylim(*ylim)
    ax.set_yticks(yticks)
    ax.set_yticklabels(ylabels, fontsize=13)
    ax.set_xticks(years)
    ax.set_xticklabels([])
    # rotated year labels, top-right corner just right of the tick
    shift = mtransforms.ScaledTranslation(4 / 100, -4 / 100, fig.dpi_scale_trans)
    for yr in years:
        ax.text(yr, 0, str(yr), transform=ax.get_xaxis_transform() + shift,
                fontsize=12.3, rotation=36, ha='right', va='top',
                rotation_mode='anchor')
    ax.tick_params(direction='in', length=4, width=0.8, pad=3)
    for sp in ax.spines.values():
        sp.set_linewidth(1.0)
    ax.set_title(title, fontsize=14.5, pad=2)
    ax.text(1.058, -0.07, '年', transform=ax.transAxes, fontsize=13,
            rotation=45, ha='center', va='center', family='Noto Sans CJK SC')

handles = [Line2D([], [], color=ink, lw=0.9),
           Line2D([], [], color=ink, lw=2.2, ls=(0, (5, 2)))]
fig.legend(handles, ['标准化后的数据', '信号'], loc='upper left',
           bbox_to_anchor=(555 / W, 1 - 918 / H), frameon=False,
           prop={'family': 'Noto Sans CJK SC', 'size': 14},
           handlelength=2.9, handletextpad=0.35, labelspacing=0.15)

fig.savefig('out.png', dpi=100)
